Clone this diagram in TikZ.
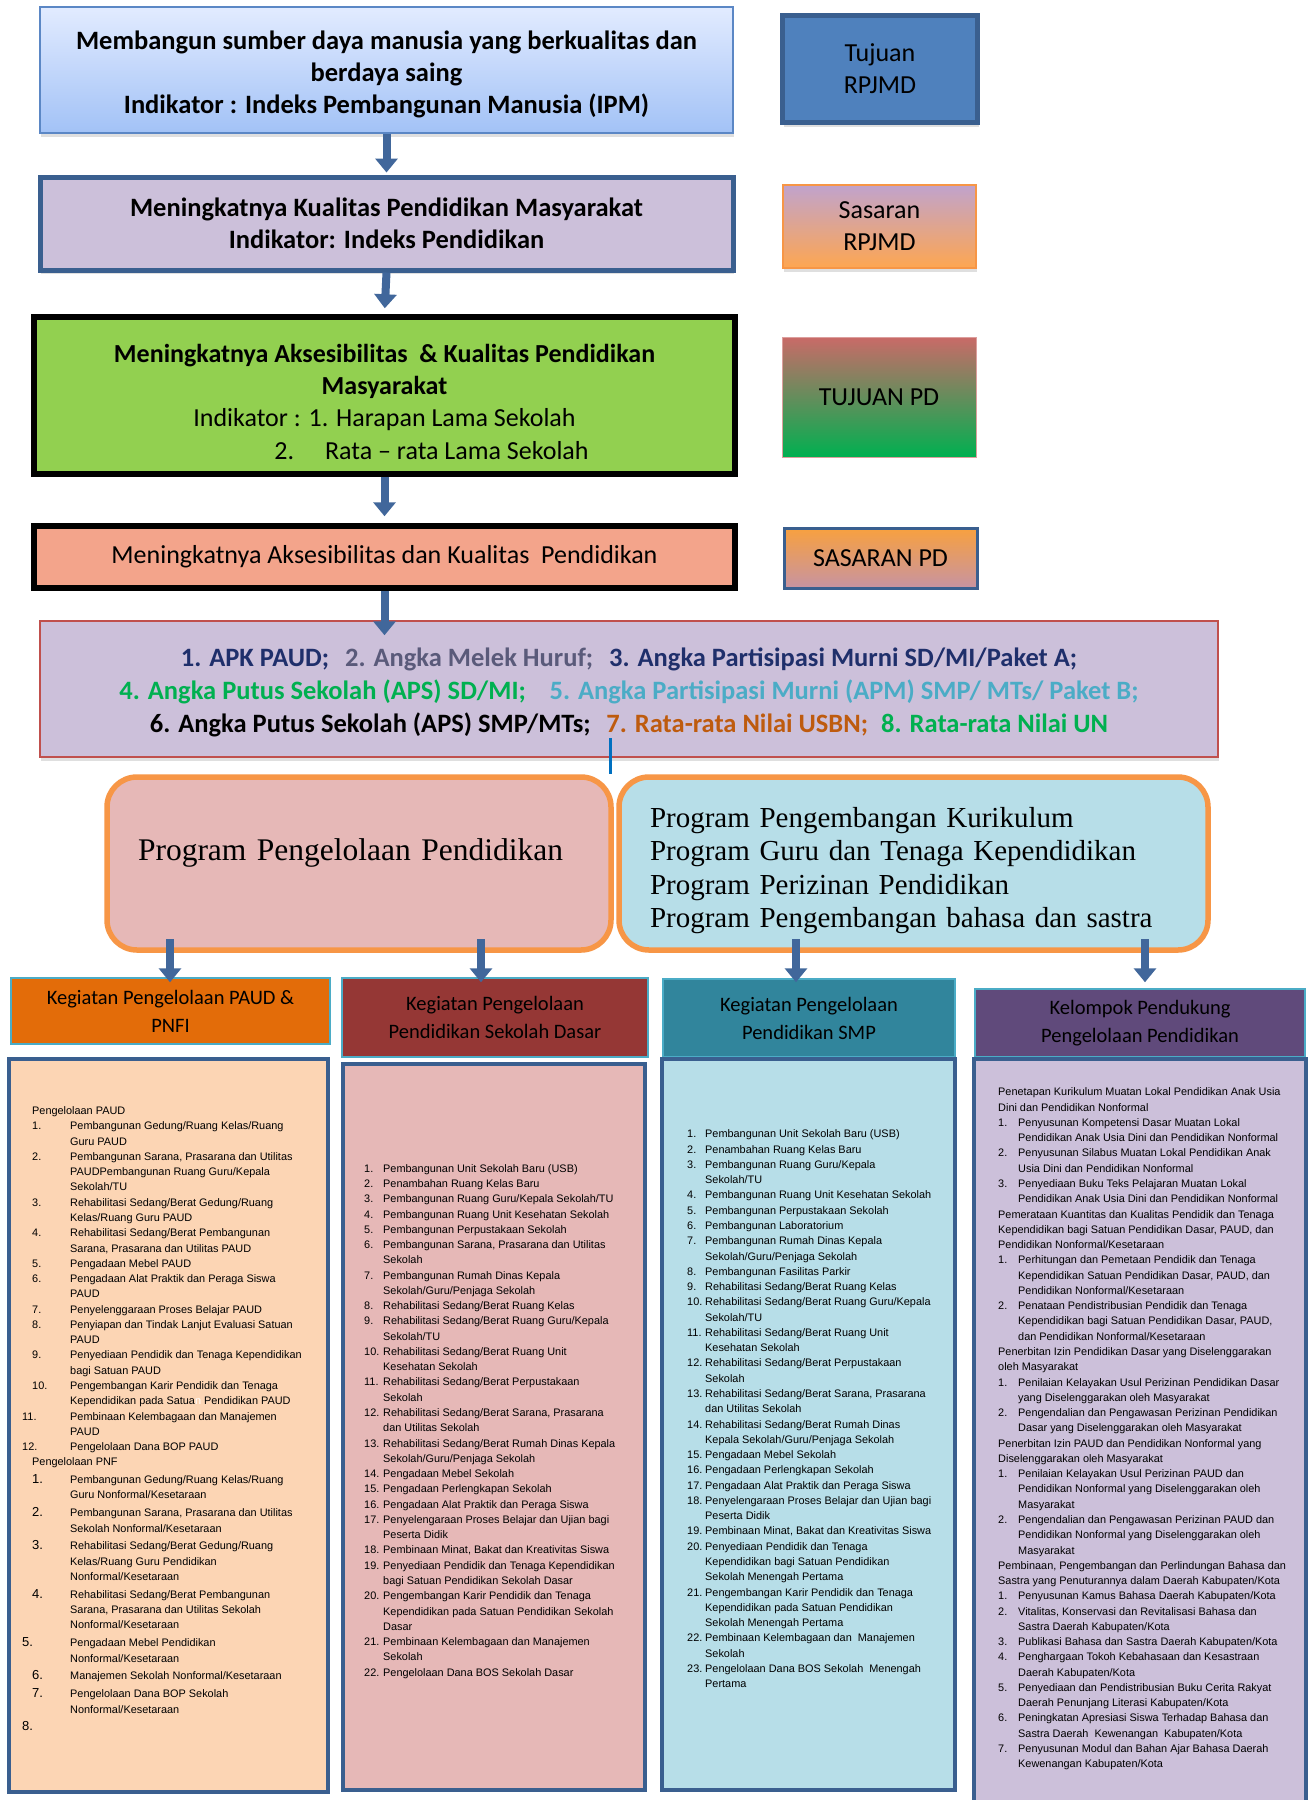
\documentclass[tikz,border=0pt]{standalone}
\usepackage{fontspec}
\setmainfont{Carlito}
\newfontfamily\arialfont{Liberation Sans}
\newfontfamily\timesfont{Liberation Serif}
\usetikzlibrary{positioning, arrows.meta, shadows}

\definecolor{bingkai}{HTML}{3A5F8F}
\definecolor{panahbiru}{HTML}{41679B}
\definecolor{atasbiru}{HTML}{E2EBFF}
\definecolor{bawahbiru}{HTML}{A2C2F6}
\definecolor{garisbiru}{HTML}{5B87C5}
\definecolor{ungu}{HTML}{CCC0DA}
\definecolor{hijau}{HTML}{92D050}
\definecolor{salem}{HTML}{F3A48B}
\definecolor{labelbiru}{HTML}{4F81BD}
\definecolor{oranye}{HTML}{F79646}
\definecolor{merahind}{HTML}{C0504D}
\definecolor{merahmuda}{HTML}{E6B8B7}
\definecolor{birumuda}{HTML}{B7DEE8}
\definecolor{persik}{HTML}{FCD5B4}
\definecolor{tosca}{HTML}{4BACC6}
\definecolor{navy}{HTML}{1F2F6B}
\definecolor{abu}{HTML}{5A5A7A}
\definecolor{hijaut}{HTML}{00B050}
\definecolor{coklat}{HTML}{BE5B0E}
\definecolor{garisind}{HTML}{0070C0}
\definecolor{kgoranye}{HTML}{E36C09}

\newcommand{\butir}[3]{\par\noindent\hangindent=#1\hangafter=1\makebox[#1][l]{#2}#3\par}
\newcommand{\judul}[2]{\par\noindent\hspace*{#1}#2\par}
\newcommand{\besar}[1]{{\fontsize{13}{13}\selectfont #1}}
\newcommand{\isian}{\raggedright\setlength{\parskip}{0pt}\fontsize{10.9}{15.27}\selectfont}

\tikzset{
  kotak/.style={draw, inner sep=0pt, align=center},
  bayang/.style={drop shadow={shadow xshift=1pt, shadow yshift=-4pt, opacity=0.25}},
  panah/.style={draw=panahbiru, line width=8pt, -{Triangle[width=22pt,length=14pt]}},
  kepala/.style={kotak, draw=tosca, line width=1.5pt, font=\fontsize{20.5}{28}\selectfont},
  isi/.style={draw=bingkai, line width=4.5pt, inner sep=0pt},
  daftar/.style={anchor=base west, inner sep=0pt, font=\arialfont}
}

\begin{document}
\begin{tikzpicture}[x=1pt, y=-1pt]
\useasboundingbox (0,0) rectangle (1313,1800);
\fill[white] (0,0) rectangle (1313,1800);

% ---- tujuan dan sasaran (kolom kiri)
\node[kotak, bayang, minimum width=693pt, minimum height=126pt, draw=garisbiru, line width=1.5pt, top color=atasbiru, bottom color=bawahbiru, font=\fontsize{26.5}{31.8}\selectfont\bfseries] (tujuan) at (386.5,70) {\rule{0pt}{27pt}Membangun sumber daya manusia yang berkualitas dan\\ berdaya saing\\ Indikator : Indeks Pembangunan Manusia (IPM)};
\node[kotak, bayang, minimum width=693pt, minimum height=93pt, draw=bingkai, line width=5pt, fill=ungu, font=\fontsize{26.5}{32}\selectfont\bfseries] (sasaran) at (386.5,223.5) {Meningkatnya Kualitas Pendidikan Masyarakat\\ Indikator: Indeks Pendidikan};
\node[kotak, minimum width=701pt, minimum height=157pt, draw=black, line width=5.5pt, fill=hijau, font=\fontsize{26}{32.4}\selectfont] (tujuanpd) at (384.5,395.5) {\rule{0pt}{30.5pt}\textbf{Meningkatnya Aksesibilitas \ \& Kualitas Pendidikan}\\ \textbf{Masyarakat}\\ Indikator : 1. Harapan Lama Sekolah\\ \hspace*{94pt}2.\hspace{31pt}Rata – rata Lama Sekolah};
\node[kotak, minimum width=701pt, minimum height=62pt, draw=black, line width=5.5pt, fill=salem, font=\fontsize{26}{31}\selectfont] (sasaranpd) at (384.5,557) {Meningkatnya Aksesibilitas dan Kualitas \ Pendidikan};

% ---- label di kanan
\node[kotak, bayang, minimum width=195pt, minimum height=107pt, draw=bingkai, line width=5pt, fill=labelbiru, font=\fontsize{26}{32}\selectfont] (lbtujuan) at (880,69) {Tujuan\\ RPJMD};
\node[kotak, bayang, minimum width=193pt, minimum height=83pt, draw=oranye, line width=1.5pt, top color=ungu!85!violet, bottom color=orange!55!persik, font=\fontsize{26}{32}\selectfont] (lbsasaran) at (879.5,226.5) {Sasaran\\ RPJMD};
\node[kotak, minimum width=194pt, minimum height=120pt, draw=merahind!55, line width=1pt, top color=merahind!85!white, bottom color=hijaut, font=\fontsize{26}{32}\selectfont] (lbtujuanpd) at (879,397) {TUJUAN PD};
\node[kotak, minimum width=193pt, minimum height=60pt, draw=bingkai, line width=3pt, top color=oranye!90!yellow, bottom color=ungu!60!merahind, font=\fontsize{26}{32}\selectfont] (lbsasaranpd) at (880.5,558) {SASARAN PD};

% ---- indikator
\node[kotak, bayang, minimum width=1178pt, minimum height=136pt, draw=merahind, line width=1.5pt, fill=ungu, font=\fontsize{26.5}{32.8}\selectfont\bfseries] (indikator) at (629,689) {\rule{0pt}{25pt}\textcolor{navy}{1. APK PAUD;}\hspace{0.6em}\textcolor{abu}{2. Angka Melek Huruf;}\hspace{0.6em}\textcolor{navy}{3. Angka Partisipasi Murni SD/MI/Paket A;}\\ \textcolor{hijaut}{4. Angka Putus Sekolah (APS) SD/MI;}\hspace{0.9em}\textcolor{tosca}{5. Angka Partisipasi Murni (APM) SMP/ MTs/ Paket B;}\\ \textcolor{black}{6. Angka Putus Sekolah (APS) SMP/MTs;}\hspace{0.6em}\textcolor{coklat}{7. Rata-rata Nilai USBN;}\hspace{0.5em}\textcolor{hijaut}{8. Rata-rata Nilai UN}};

% ---- program
\node[draw=oranye, line width=5.5pt, rounded corners=30pt, fill=merahmuda, minimum height=173pt, text width=442pt, inner xsep=31pt, inner ysep=0pt, align=left, font=\timesfont\fontsize{31.5}{34}\selectfont] (proga) at (359,863.5) {Program Pengelolaan Pendidikan\rule[-27pt]{0pt}{27pt}};
\node[draw=oranye, line width=5.5pt, rounded corners=30pt, fill=birumuda, minimum height=173pt, text width=527pt, inner xsep=31pt, inner ysep=0pt, align=left, font=\timesfont\fontsize{29}{33.4}\selectfont] (progb) at (913.5,863.5) {\rule{0pt}{34.5pt}Program Pengembangan Kurikulum\\ Program Guru dan Tenaga Kependidikan\\ Program Perizinan Pendidikan\\ Program Pengembangan bahasa dan sastra};

% ---- kepala kegiatan
\node[kepala, minimum width=319pt, minimum height=66pt, fill=kgoranye] (kga) at (170.5,1011) {Kegiatan Pengelolaan PAUD \&\\ PNFI};
\node[kepala, minimum width=306pt, minimum height=79pt, fill={rgb,255:red,149;green,55;blue,53}] (kgb) at (495,1017.5) {Kegiatan Pengelolaan\\ Pendidikan Sekolah Dasar};
\node[kepala, minimum width=292pt, minimum height=78pt, fill={rgb,255:red,49;green,133;blue,156}] (kgc) at (809,1018) {Kegiatan Pengelolaan\\ Pendidikan SMP};
\node[kepala, minimum width=330pt, minimum height=68pt, fill={rgb,255:red,96;green,74;blue,123}] (kgd) at (1140,1023) {Kelompok Pendukung\\ Pengelolaan Pendidikan};

% ---- kotak isi kegiatan
\node[isi, fill=persik, minimum width=319pt, minimum height=733pt] (isia) at (168.5,1425.5) {};
\node[isi, fill=merahmuda, minimum width=302pt, minimum height=726pt] (isib) at (494,1427) {};
\node[isi, fill=birumuda, minimum width=293pt, minimum height=731pt] (isic) at (808.5,1424.5) {};
\node[isi, fill=ungu, minimum width=332pt, minimum height=746pt] (isid) at (1140,1432) {};

% ---- panah
\draw[panah, shorten >=2pt] (tujuan.south) -- (sasaran.north);
\draw[panah, shorten >=6pt] (sasaran.south) -- (tujuanpd.north);
\draw[panah, shorten >=7pt] (tujuanpd.south) -- (tujuanpd.south |- sasaranpd.north);
\draw[panah] (sasaranpd.south) -- ([yshift=-15pt]indikator.north -| sasaranpd.south);
\coordinate (garis) at (610,738);
\draw[garisind, line width=3pt] (garis) -- (garis |- proga.north);
\coordinate (pa1) at (170,939);
\coordinate (pa2) at (481,939);
\coordinate (pb1) at (796,939);
\coordinate (pb2) at (1145,939);
\draw[panah] (pa1) -- ([yshift=-5pt]pa1 |- kga.north);
\draw[panah] (pa2) -- ([yshift=-5pt]pa2 |- kgb.north);
\draw[panah] (pb1) -- ([yshift=-4pt]pb1 |- kgc.north);
\draw[panah] (pb2) -- ([yshift=6pt]pb2 |- kgd.north);

% ---- daftar kegiatan PAUD & PNF
\node[daftar] (daftara) at (22,1114.6) {\begin{minipage}[t]{300pt}\isian
\judul{10pt}{Pengelolaan PAUD}
\butir{48pt}{\hspace*{10pt}1.}{Pembangunan Gedung/Ruang Kelas/Ruang\newline Guru PAUD}
\butir{48pt}{\hspace*{10pt}2.}{Pembangunan Sarana, Prasarana dan Utilitas\newline PAUDPembangunan Ruang Guru/Kepala\newline Sekolah/TU}
\butir{48pt}{\hspace*{10pt}3.}{Rehabilitasi Sedang/Berat Gedung/Ruang\newline Kelas/Ruang Guru PAUD}
\butir{48pt}{\hspace*{10pt}4.}{Rehabilitasi Sedang/Berat Pembangunan\newline Sarana, Prasarana dan Utilitas PAUD}
\butir{48pt}{\hspace*{10pt}5.}{Pengadaan Mebel PAUD}
\butir{48pt}{\hspace*{10pt}6.}{Pengadaan Alat Praktik dan Peraga Siswa\newline PAUD}
\butir{48pt}{\hspace*{10pt}7.}{Penyelenggaraan Proses Belajar PAUD}
\butir{48pt}{\hspace*{10pt}8.}{Penyiapan dan Tindak Lanjut Evaluasi Satuan\newline PAUD}
\butir{48pt}{\hspace*{10pt}9.}{Penyediaan Pendidik dan Tenaga Kependidikan\newline bagi Satuan PAUD}
\butir{48pt}{\hspace*{10pt}10.}{Pengembangan Karir Pendidik dan Tenaga\newline Kependidikan pada Satua\textcolor{white}{n} Pendidikan PAUD}
\butir{48pt}{11.}{Pembinaan Kelembagaan dan Manajemen\newline PAUD}
\butir{48pt}{12.}{Pengelolaan Dana BOP PAUD}
\judul{10pt}{Pengelolaan PNF}
\vspace{2.6pt}\butir{48pt}{\hspace*{10pt}\besar{1.}}{Pembangunan Gedung/Ruang Kelas/Ruang\newline Guru Nonformal/Kesetaraan}
\vspace{2.6pt}\butir{48pt}{\hspace*{10pt}\besar{2.}}{Pembangunan Sarana, Prasarana dan Utilitas\newline Sekolah Nonformal/Kesetaraan}
\vspace{2.6pt}\butir{48pt}{\hspace*{10pt}\besar{3.}}{Rehabilitasi Sedang/Berat Gedung/Ruang\newline Kelas/Ruang Guru Pendidikan\newline Nonformal/Kesetaraan}
\vspace{2.6pt}\butir{48pt}{\hspace*{10pt}\besar{4.}}{Rehabilitasi Sedang/Berat Pembangunan\newline Sarana, Prasarana dan Utilitas Sekolah\newline Nonformal/Kesetaraan}
\vspace{2.6pt}\butir{48pt}{\besar{5.}}{Pengadaan Mebel Pendidikan\newline Nonformal/Kesetaraan}
\vspace{2.6pt}\butir{48pt}{\hspace*{10pt}\besar{6.}}{Manajemen Sekolah Nonformal/Kesetaraan}
\vspace{2.6pt}\butir{48pt}{\hspace*{10pt}\besar{7.}}{Pengelolaan Dana BOP Sekolah\newline Nonformal/Kesetaraan}
\vspace{2.6pt}\butir{48pt}{\besar{8.}}{}
\end{minipage}};

% ---- daftar kegiatan sekolah dasar
\node[daftar] (daftarb) at (364,1172.2) {\begin{minipage}[t]{290pt}\isian
\butir{19pt}{1.}{Pembangunan Unit Sekolah Baru (USB)}
\butir{19pt}{2.}{Penambahan Ruang Kelas Baru}
\butir{19pt}{3.}{Pembangunan Ruang Guru/Kepala Sekolah/TU}
\butir{19pt}{4.}{Pembangunan Ruang Unit Kesehatan Sekolah}
\butir{19pt}{5.}{Pembangunan Perpustakaan Sekolah}
\butir{19pt}{6.}{Pembangunan Sarana, Prasarana dan Utilitas\newline Sekolah}
\butir{19pt}{7.}{Pembangunan Rumah Dinas Kepala\newline Sekolah/Guru/Penjaga Sekolah}
\butir{19pt}{8.}{Rehabilitasi Sedang/Berat Ruang Kelas}
\butir{19pt}{9.}{Rehabilitasi Sedang/Berat Ruang Guru/Kepala\newline Sekolah/TU}
\butir{19pt}{10.}{Rehabilitasi Sedang/Berat Ruang Unit\newline Kesehatan Sekolah}
\butir{19pt}{11.}{Rehabilitasi Sedang/Berat Perpustakaan\newline Sekolah}
\butir{19pt}{12.}{Rehabilitasi Sedang/Berat Sarana, Prasarana\newline dan Utilitas Sekolah}
\butir{19pt}{13.}{Rehabilitasi Sedang/Berat Rumah Dinas Kepala\newline Sekolah/Guru/Penjaga Sekolah}
\butir{19pt}{14.}{Pengadaan Mebel Sekolah}
\butir{19pt}{15.}{Pengadaan Perlengkapan Sekolah}
\butir{19pt}{16.}{Pengadaan Alat Praktik dan Peraga Siswa}
\butir{19pt}{17.}{Penyelengaraan Proses Belajar dan Ujian bagi\newline Peserta Didik}
\butir{19pt}{18.}{Pembinaan Minat, Bakat dan Kreativitas Siswa}
\butir{19pt}{19.}{Penyediaan Pendidik dan Tenaga Kependidikan\newline bagi Satuan Pendidikan Sekolah Dasar}
\butir{19pt}{20.}{Pengembangan Karir Pendidik dan Tenaga\newline Kependidikan pada Satuan Pendidikan Sekolah\newline Dasar}
\butir{19pt}{21.}{Pembinaan Kelembagaan dan Manajemen\newline Sekolah}
\butir{19pt}{22.}{Pengelolaan Dana BOS Sekolah Dasar}
\end{minipage}};

% ---- daftar kegiatan SMP
\node[daftar] (daftarc) at (687,1137.9) {\begin{minipage}[t]{290pt}\isian
\butir{18pt}{1.}{Pembangunan Unit Sekolah Baru (USB)}
\butir{18pt}{2.}{Penambahan Ruang Kelas Baru}
\butir{18pt}{3.}{Pembangunan Ruang Guru/Kepala\newline Sekolah/TU}
\butir{18pt}{4.}{Pembangunan Ruang Unit Kesehatan Sekolah}
\butir{18pt}{5.}{Pembangunan Perpustakaan Sekolah}
\butir{18pt}{6.}{Pembangunan Laboratorium}
\butir{18pt}{7.}{Pembangunan Rumah Dinas Kepala\newline Sekolah/Guru/Penjaga Sekolah}
\butir{18pt}{8.}{Pembangunan Fasilitas Parkir}
\butir{18pt}{9.}{Rehabilitasi Sedang/Berat Ruang Kelas}
\butir{18pt}{10.}{Rehabilitasi Sedang/Berat Ruang Guru/Kepala\newline Sekolah/TU}
\butir{18pt}{11.}{Rehabilitasi Sedang/Berat Ruang Unit\newline Kesehatan Sekolah}
\butir{18pt}{12.}{Rehabilitasi Sedang/Berat Perpustakaan\newline Sekolah}
\butir{18pt}{13.}{Rehabilitasi Sedang/Berat Sarana, Prasarana\newline dan Utilitas Sekolah}
\butir{18pt}{14.}{Rehabilitasi Sedang/Berat Rumah Dinas\newline Kepala Sekolah/Guru/Penjaga Sekolah}
\butir{18pt}{15.}{Pengadaan Mebel Sekolah}
\butir{18pt}{16.}{Pengadaan Perlengkapan Sekolah}
\butir{18pt}{17.}{Pengadaan Alat Praktik dan Peraga Siswa}
\butir{18pt}{18.}{Penyelengaraan Proses Belajar dan Ujian bagi\newline Peserta Didik}
\butir{18pt}{19.}{Pembinaan Minat, Bakat dan Kreativitas Siswa}
\butir{18pt}{20.}{Penyediaan Pendidik dan Tenaga\newline Kependidikan bagi Satuan Pendidikan\newline Sekolah Menengah Pertama}
\butir{18pt}{21.}{Pengembangan Karir Pendidik dan Tenaga\newline Kependidikan pada Satuan Pendidikan\newline Sekolah Menengah Pertama}
\butir{18pt}{22.}{Pembinaan Kelembagaan dan \ Manajemen\newline Sekolah}
\butir{18pt}{23.}{Pengelolaan Dana BOS Sekolah \ Menengah\newline Pertama}
\end{minipage}};

% ---- daftar kelompok pendukung
\node[daftar] (daftard) at (998,1095.9) {\begin{minipage}[t]{340pt}\isian
\judul{0pt}{Penetapan Kurikulum Muatan Lokal Pendidikan Anak Usia\newline Dini dan Pendidikan Nonformal}
\butir{20pt}{1.}{Penyusunan Kompetensi Dasar Muatan Lokal\newline Pendidikan Anak Usia Dini dan Pendidikan Nonformal}
\butir{20pt}{2.}{Penyusunan Silabus Muatan Lokal Pendidikan Anak\newline Usia Dini dan Pendidikan Nonformal}
\butir{20pt}{3.}{Penyediaan Buku Teks Pelajaran Muatan Lokal\newline Pendidikan Anak Usia Dini dan Pendidikan Nonformal}
\judul{0pt}{Pemerataan Kuantitas dan Kualitas Pendidik dan Tenaga\newline Kependidikan bagi Satuan Pendidikan Dasar, PAUD, dan\newline Pendidikan Nonformal/Kesetaraan}
\butir{20pt}{1.}{Perhitungan dan Pemetaan Pendidik dan Tenaga\newline Kependidikan Satuan Pendidikan Dasar, PAUD, dan\newline Pendidikan Nonformal/Kesetaraan}
\butir{20pt}{2.}{Penataan Pendistribusian Pendidik dan Tenaga\newline Kependidikan bagi Satuan Pendidikan Dasar, PAUD,\newline dan Pendidikan Nonformal/Kesetaraan}
\judul{0pt}{Penerbitan Izin Pendidikan Dasar yang Diselenggarakan\newline oleh Masyarakat}
\butir{20pt}{1.}{Penilaian Kelayakan Usul Perizinan Pendidikan Dasar\newline yang Diselenggarakan oleh Masyarakat}
\butir{20pt}{2.}{Pengendalian dan Pengawasan Perizinan Pendidikan\newline Dasar yang Diselenggarakan oleh Masyarakat}
\judul{0pt}{Penerbitan Izin PAUD dan Pendidikan Nonformal yang\newline Diselenggarakan oleh Masyarakat}
\butir{20pt}{1.}{Penilaian Kelayakan Usul Perizinan PAUD dan\newline Pendidikan Nonformal yang Diselenggarakan oleh\newline Masyarakat}
\butir{20pt}{2.}{Pengendalian dan Pengawasan Perizinan PAUD dan\newline Pendidikan Nonformal yang Diselenggarakan oleh\newline Masyarakat}
\judul{0pt}{Pembinaan, Pengembangan dan Perlindungan Bahasa dan\newline Sastra yang Penuturannya dalam Daerah Kabupaten/Kota}
\butir{20pt}{1.}{Penyusunan Kamus Bahasa Daerah Kabupaten/Kota}
\butir{20pt}{2.}{Vitalitas, Konservasi dan Revitalisasi Bahasa dan\newline Sastra Daerah Kabupaten/Kota}
\butir{20pt}{3.}{Publikasi Bahasa dan Sastra Daerah Kabupaten/Kota}
\butir{20pt}{4.}{Penghargaan Tokoh Kebahasaan dan Kesastraan\newline Daerah Kabupaten/Kota}
\butir{20pt}{5.}{Penyediaan dan Pendistribusian Buku Cerita Rakyat\newline Daerah Penunjang Literasi Kabupaten/Kota}
\butir{20pt}{6.}{Peningkatan Apresiasi Siswa Terhadap Bahasa dan\newline Sastra Daerah \ Kewenangan \ Kabupaten/Kota}
\butir{20pt}{7.}{Penyusunan Modul dan Bahan Ajar Bahasa Daerah\newline Kewenangan Kabupaten/Kota}
\end{minipage}};
\end{tikzpicture}
\end{document}
